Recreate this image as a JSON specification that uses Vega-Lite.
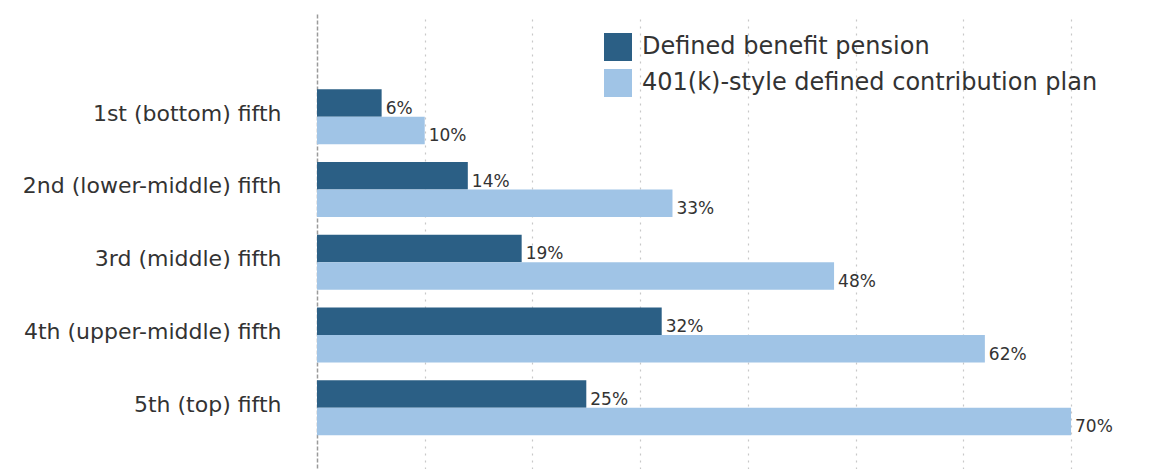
{
  "$schema": "https://vega.github.io/schema/vega-lite/v6.json",
  "width": 851,
  "height": 455,
  "autosize": {"type": "none"},
  "padding": {"left": 317, "top": 14, "right": 0, "bottom": 0},
  "background": "white",
  "config": {
    "view": {"stroke": null},
    "font": "DejaVu Sans"
  },
  "data": {
    "values": [
      {"group": "1st (bottom) fifth", "series": "Defined benefit pension", "value": 6},
      {"group": "1st (bottom) fifth", "series": "401(k)-style defined contribution plan", "value": 10},
      {"group": "2nd (lower-middle) fifth", "series": "Defined benefit pension", "value": 14},
      {"group": "2nd (lower-middle) fifth", "series": "401(k)-style defined contribution plan", "value": 33},
      {"group": "3rd (middle) fifth", "series": "Defined benefit pension", "value": 19},
      {"group": "3rd (middle) fifth", "series": "401(k)-style defined contribution plan", "value": 48},
      {"group": "4th (upper-middle) fifth", "series": "Defined benefit pension", "value": 32},
      {"group": "4th (upper-middle) fifth", "series": "401(k)-style defined contribution plan", "value": 62},
      {"group": "5th (top) fifth", "series": "Defined benefit pension", "value": 25},
      {"group": "5th (top) fifth", "series": "401(k)-style defined contribution plan", "value": 70}
    ]
  },
  "encoding": {
    "y": {
      "field": "group",
      "type": "nominal",
      "sort": ["1st (bottom) fifth", "2nd (lower-middle) fifth", "3rd (middle) fifth", "4th (upper-middle) fifth", "5th (top) fifth"],
      "scale": {"paddingInner": 0.244, "paddingOuter": 0.749, "align": 0.69},
      "axis": {
        "title": null,
        "ticks": false,
        "labelPadding": 36,
        "labelFontSize": 22,
        "labelLimit": 0,
        "labelOffset": -3,
        "labelColor": "#333333",
        "domainColor": "#9a9a9a",
        "domainDash": [4, 2],
        "domainWidth": 1.5
      }
    },
    "yOffset": {
      "field": "series",
      "type": "nominal",
      "sort": ["Defined benefit pension", "401(k)-style defined contribution plan"],
      "scale": {"paddingInner": 0, "paddingOuter": 0}
    },
    "x": {
      "field": "value",
      "type": "quantitative",
      "scale": {"domain": [0, 79], "nice": false},
      "axis": {
        "title": null,
        "values": [10, 20, 30, 40, 50, 60, 70],
        "labels": false,
        "ticks": false,
        "domain": false,
        "grid": true,
        "gridDash": [2, 5],
        "gridColor": "#c8c8c8",
        "gridWidth": 1.2
      }
    }
  },
  "layer": [
    {
      "mark": {"type": "bar"},
      "encoding": {
        "color": {
          "field": "series",
          "type": "nominal",
          "sort": ["Defined benefit pension", "401(k)-style defined contribution plan"],
          "scale": {"range": ["#2b5f85", "#a0c4e6"]},
          "legend": {
            "title": null,
            "orient": "none",
            "legendX": 287,
            "legendY": 19,
            "symbolType": "square",
            "symbolSize": 784,
            "symbolStrokeWidth": 0,
            "symbolOpacity": 1,
            "labelFontSize": 24,
            "labelLimit": 0,
            "labelColor": "#333333",
            "labelOffset": 10,
            "rowPadding": 8
          }
        }
      }
    },
    {
      "mark": {"type": "text", "align": "left", "baseline": "middle", "dx": 4, "dy": 6, "fontSize": 17, "color": "#333333", "text": {"expr": "datum.value + '%'"}},
      "encoding": {
        "detail": {"field": "series"}
      }
    }
  ]
}
